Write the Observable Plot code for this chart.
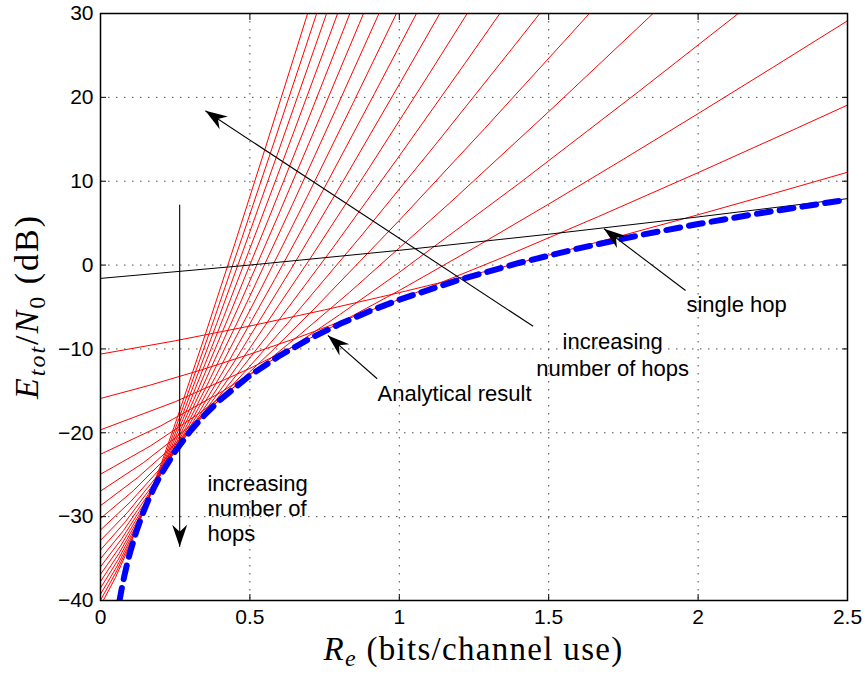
<!DOCTYPE html>
<html><head><meta charset="utf-8">
<script src="https://cdn.jsdelivr.net/npm/d3@7"></script>
<script src="https://cdn.jsdelivr.net/npm/@observablehq/plot@0.6"></script>
<style>
html,body{margin:0;padding:0;background:#fff;}
#chart{width:866px;height:675px;}
</style></head><body><div id="chart"></div>
<script>
// ---------- data ----------
const xTicks = [0, 0.5, 1, 1.5, 2, 2.5];
const yTicks = [-40, -30, -20, -10, 0, 10, 20, 30];

// red curves: number of hops 2..20
const hops = [2,3,4,5,6,7,8,9,10,11,12,13,14,15,16,17,18,19,20];
const redR = [
  [0,0.25,0.5,0.75,1,1.25,1.5,1.75,2,2.25,2.5],
  [0,0.1667,0.3333,0.5,0.6667,1,1.3333,1.6667,2,2.3333,2.5],
  [0,0.25,0.5,0.75,1,1.25,1.5,1.75,2,2.25,2.5],
  [0,0.2,0.4,0.6,0.8,1.0,1.4,1.8,2.2],
  [0,0.1667,0.3333,0.5,0.6667,0.8333,1.1667,1.5,1.8333,2.0],
  [0,0.1429,0.2857,0.4286,0.5714,0.7143,1.0,1.2857,1.5714,1.7143],
  [0,0.125,0.25,0.375,0.5,0.625,0.875,1.125,1.375,1.5],
  [0,0.1111,0.2222,0.3333,0.4444,0.5556,0.7778,1.0,1.2222,1.4444],
  [0,0.1,0.2,0.3,0.4,0.5,0.7,0.9,1.1,1.3],
  [0,0.0909,0.1818,0.2727,0.3636,0.4545,0.6364,0.8182,1.0,1.1818],
  [0,0.0833,0.1667,0.25,0.3333,0.4167,0.5833,0.75,0.9167,1.0833],
  [0,0.0769,0.1538,0.2308,0.3077,0.3846,0.5385,0.6923,0.8462,1.0],
  [0,0.0714,0.1429,0.2143,0.2857,0.3571,0.5,0.6429,0.7857,0.9286,1.0],
  [0,0.0667,0.1333,0.2,0.2667,0.3333,0.4667,0.6,0.7333,0.8667,0.9333],
  [0,0.0625,0.125,0.1875,0.25,0.3125,0.4375,0.5625,0.6875,0.8125,0.875],
  [0,0.0588,0.1176,0.1765,0.2353,0.2941,0.4118,0.5294,0.6471,0.7647,0.8235],
  [0,0.0556,0.1111,0.1667,0.2222,0.2778,0.3889,0.5,0.6111,0.7222,0.7778],
  [0,0.0526,0.1053,0.1579,0.2105,0.2632,0.3684,0.4737,0.5789,0.6842,0.7368],
  [0,0.05,0.1,0.15,0.2,0.25,0.35,0.45,0.55,0.65,0.7]
];
const redDb = [
  [-10.62,-9.03,-7.27,-5.35,-3.29,-1.11,1.18,3.56,6.00,8.51,11.07],
  [-15.91,-14.31,-12.55,-10.63,-8.57,-4.10,0.72,5.79,11.02,16.37,19.08],
  [-19.65,-16.30,-12.32,-7.85,-3.03,2.04,7.27,12.62,18.06,23.57,29.13],
  [-22.56,-19.21,-15.23,-10.76,-5.93,-0.87,9.71,20.66,31.83],
  [-24.94,-21.58,-17.61,-13.13,-8.31,-3.25,7.34,18.29,29.46,35.10],
  [-26.95,-23.59,-19.61,-15.14,-10.32,-5.25,5.33,16.28,27.45,33.09],
  [-28.69,-25.33,-21.35,-16.88,-12.06,-6.99,3.59,14.54,25.71,31.35],
  [-30.22,-26.87,-22.89,-18.42,-13.59,-8.53,2.06,13.01,24.18,35.49],
  [-31.59,-28.24,-24.26,-19.79,-14.97,-9.90,0.68,11.63,22.80,34.12],
  [-32.83,-29.48,-25.50,-21.03,-16.21,-11.14,-0.56,10.39,21.56,32.88],
  [-33.97,-30.61,-26.64,-22.16,-17.34,-12.28,-1.69,9.26,20.43,31.74],
  [-35.01,-31.66,-27.68,-23.21,-18.38,-13.32,-2.74,8.21,19.39,30.70],
  [-35.98,-32.62,-28.64,-24.17,-19.35,-14.29,-3.70,7.25,18.42,29.73,35.43],
  [-36.88,-33.52,-29.54,-25.07,-20.25,-15.18,-4.60,6.35,17.52,28.84,34.53],
  [-37.72,-34.36,-30.38,-25.91,-21.09,-16.03,-5.44,5.51,16.68,27.99,33.69],
  [-38.51,-35.15,-31.17,-26.70,-21.88,-16.81,-6.23,4.72,15.89,27.21,32.90],
  [-39.25,-35.90,-31.92,-27.45,-22.62,-17.56,-6.98,3.97,15.15,26.46,32.16],
  [-39.96,-36.60,-32.62,-28.15,-23.33,-18.26,-7.68,3.27,14.44,25.76,31.45],
  [-40.62,-37.27,-33.29,-28.82,-24.00,-18.93,-8.35,2.60,13.77,25.09,30.79]
];

// single hop (black)
const singleR = [0, 0.5, 1, 1.5, 2, 2.5];
const singleDb = [-1.59, 0, 1.76, 3.68, 5.74, 7.92];

// analytical result (blue dashed)
const analyticR = [0.063,0.07,0.08,0.09,0.1,0.12,0.14,0.16,0.18,0.2,0.25,0.3,0.35,0.4,0.5,0.6,0.7,0.8,0.9,1.0,1.2,1.4,1.6,1.8,2.0,2.2,2.5];
const analyticDb = [-40.15,-38.78,-37.04,-35.50,-34.13,-31.76,-29.75,-28.01,-26.47,-25.10,-22.19,-19.82,-17.81,-16.07,-13.16,-10.79,-8.78,-7.04,-5.50,-4.13,-1.76,0.25,1.99,3.53,4.90,6.14,7.81];

// annotations (data coordinates)
const arrowFromR = [1.448, 0.265, 0.926, 1.958];
const arrowFromDb = [-7.3, 7.2, -13.56, -3.03];
const arrowToR = [0.351, 0.265, 0.761, 1.685];
const arrowToDb = [18.4, -33.6, -8.39, 4.33];

const noteCenterText = ["increasing\nnumber of hops"];
const noteCenterR = [1.714];
const noteCenterDb = [-10.6];
const noteLeftText = ["increasing\nnumber of\nhops", "Analytical result", "single hop"];
const noteLeftR = [0.358, 0.927, 1.961];
const noteLeftDb = [-29.0, -15.3, -4.6];

// ---------- tables ----------
const redRows = hops.flatMap((n, i) => redR[i].map((r, j) => ({hops: n, R: r, db: redDb[i][j]})));
const singleRows = singleR.map((r, j) => ({R: r, db: singleDb[j]}));
const analyticRows = analyticR.map((r, j) => ({R: r, db: analyticDb[j]}));
const arrows = arrowFromR.map((r, i) => ({x1: r, y1: arrowFromDb[i], x2: arrowToR[i], y2: arrowToDb[i]}));
const notesC = noteCenterText.map((t, i) => ({text: t, R: noteCenterR[i], db: noteCenterDb[i]}));
const notesL = noteLeftText.map((t, i) => ({text: t, R: noteLeftR[i], db: noteLeftDb[i]}));

const fmt = d => d < 0 ? "\u2212" + Math.abs(d) : String(d);
const empty = () => "";

const chart = Plot.plot({
  width: 866, height: 675,
  marginLeft: 100, marginRight: 19, marginTop: 13, marginBottom: 75,
  x: {domain: [0, 2.5]},
  y: {domain: [-40, 30]},
  style: {fontFamily: "'Liberation Sans', Arial, sans-serif", fontSize: "21px", background: "#fff", color: "#000", overflow: "visible"},
  marks: [
    Plot.gridX(xTicks, {stroke: "#000", strokeOpacity: 0.7, strokeDasharray: "1.5,6.5"}),
    Plot.gridY(yTicks, {stroke: "#000", strokeOpacity: 0.7, strokeDasharray: "1.5,6.5"}),
    Plot.line(redRows, {x: "R", y: "db", z: "hops", stroke: "#ff0000", strokeWidth: 1, clip: true}),
    Plot.line(singleRows, {x: "R", y: "db", stroke: "#000", strokeWidth: 1, clip: true}),
    Plot.line(analyticRows, {x: "R", y: "db", stroke: "#0000ff", strokeWidth: 6, strokeDasharray: "14,9", clip: true}),
    Plot.link(arrows, {x1: "x1", y1: "y1", x2: "x2", y2: "y2", stroke: "#000", strokeWidth: 1.1}),
    Plot.text(notesC, {x: "R", y: "db", text: "text", textAnchor: "middle", lineAnchor: "middle", fontSize: 22, lineHeight: 1.22, fill: "#000"}),
    Plot.text(notesL, {x: "R", y: "db", text: "text", textAnchor: "start", lineAnchor: "middle", fontSize: 22, lineHeight: 1.14, fill: "#000"}),
    Plot.frame({stroke: "#000", strokeWidth: 1.5}),
    Plot.axisX(xTicks, {anchor: "bottom", tickSize: -6, tickFormat: empty, label: null}),
    Plot.axisX(xTicks, {anchor: "top", tickSize: -6, tickFormat: empty, label: null}),
    Plot.axisY(yTicks, {anchor: "left", tickSize: -6, tickFormat: empty, label: null}),
    Plot.axisY(yTicks, {anchor: "right", tickSize: -6, tickFormat: empty, label: null}),
    Plot.axisX(xTicks, {anchor: "bottom", tickSize: 0, tickPadding: 9, tickFormat: fmt, label: null}),
    Plot.axisY(yTicks, {anchor: "left", tickSize: 0, tickPadding: 7, tickFormat: fmt, label: null})
  ]
});

document.getElementById("chart").appendChild(chart);

// arrowheads (filled, notched)
const svg = d3.select(chart);
const defs = svg.append("defs");
defs.append("marker").attr("id", "ah")
  .attr("viewBox", "-24 -9 26 18").attr("refX", 0).attr("refY", 0)
  .attr("markerWidth", 26).attr("markerHeight", 18)
  .attr("markerUnits", "userSpaceOnUse").attr("orient", "auto")
  .append("path").attr("d", "M0,0L-22,-7.5L-15,0L-22,7.5Z").attr("fill", "#000");
svg.selectAll('g[aria-label="link"] path, g[aria-label="link"] line').attr("marker-end", "url(#ah)");

// axis labels (LaTeX-like)
const xs = chart.scale("x"), ys = chart.scale("y");
const cx = (xs.range[0] + xs.range[1]) / 2;
const cy = (ys.range[0] + ys.range[1]) / 2;
const serif = "'Liberation Serif', 'DejaVu Serif', serif";
const xl = svg.append("text").attr("x", cx).attr("y", 660).attr("text-anchor", "middle")
  .style("font-family", serif).style("font-size", "33px").style("letter-spacing", "1.3px").attr("fill", "#000");
xl.append("tspan").attr("font-style", "italic").text("R");
xl.append("tspan").attr("font-style", "italic").attr("font-size", "24px").attr("dy", 6).text("e");
xl.append("tspan").attr("dy", -6).text(" (bits/channel use)");

const yl = svg.append("text").attr("transform", `translate(38,${cy}) rotate(-90)`).attr("text-anchor", "middle")
  .style("font-family", serif).style("font-size", "34px").style("letter-spacing", "2px").attr("fill", "#000");
yl.append("tspan").attr("font-style", "italic").text("E");
yl.append("tspan").attr("font-style", "italic").attr("font-size", "24px").attr("dy", 7).text("tot");
yl.append("tspan").attr("dy", -7).text("/");
yl.append("tspan").attr("font-style", "italic").text("N");
yl.append("tspan").attr("font-size", "24px").attr("dy", 7).text("0");
yl.append("tspan").attr("dy", -7).text(" (dB)");
</script>
</body></html>
